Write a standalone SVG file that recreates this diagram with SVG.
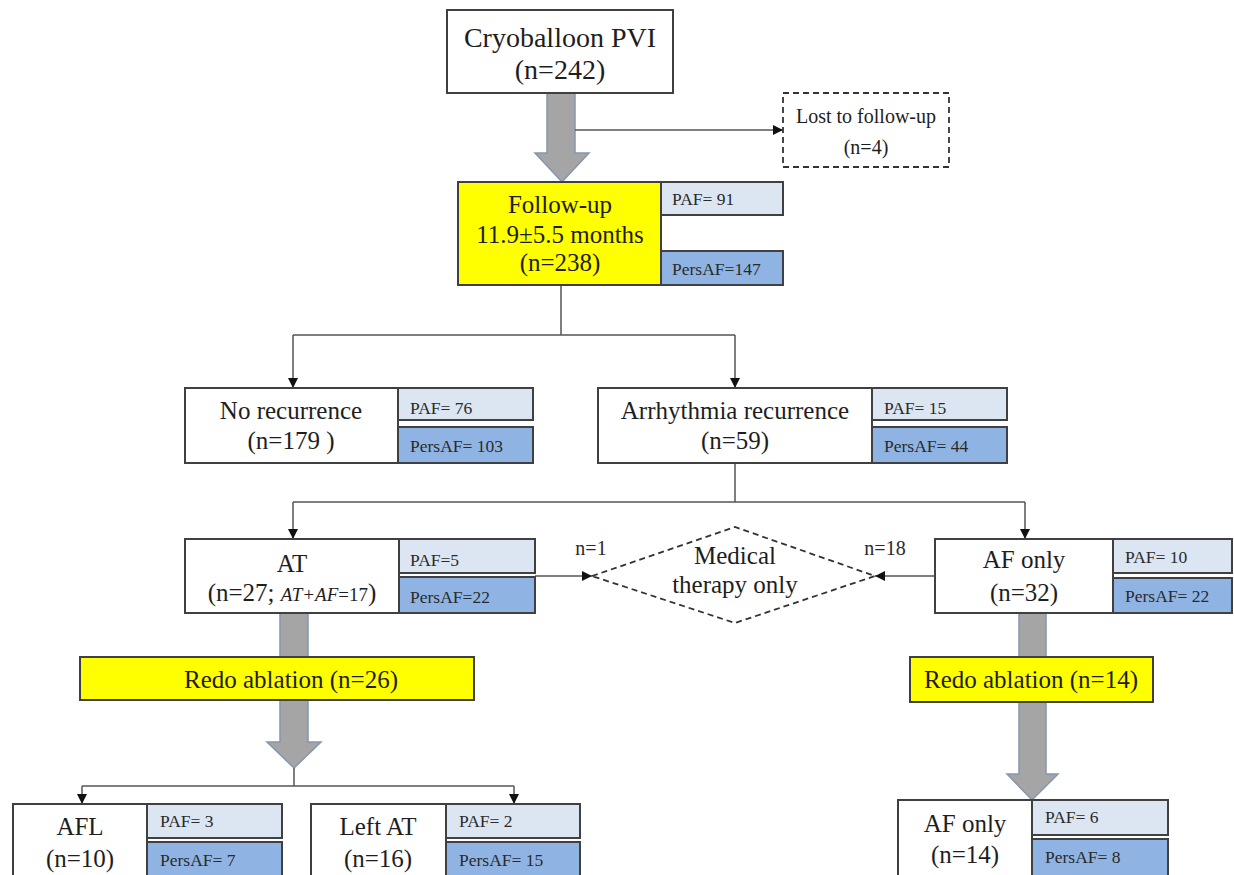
<svg xmlns="http://www.w3.org/2000/svg" width="1234" height="875" viewBox="0 0 1234 875">
<defs>
<marker id="ah" viewBox="0 0 10 10" refX="10" refY="5" markerWidth="10" markerHeight="10" markerUnits="userSpaceOnUse" orient="auto">
<path d="M0,0 L10,5 L0,10 z" fill="#111"/>
</marker>
<style>
.box{fill:#fff;stroke:#404040;stroke-width:2}
.dash{fill:#fff;stroke:#333;stroke-width:1.8;stroke-dasharray:6,4}
.yel{fill:#ffff00;stroke:#404040;stroke-width:2}
.paf{fill:#dce6f2;stroke:#404040;stroke-width:2}
.pers{fill:#8fb4e3;stroke:#404040;stroke-width:2}
.big{fill:#a5a5a5;stroke:#8497b0;stroke-width:1.5}
.ln{fill:none;stroke:#555;stroke-width:1.5}
.arr{fill:none;stroke:#555;stroke-width:1.5;marker-end:url(#ah)}
text{font-family:"Liberation Serif","Times New Roman",serif;fill:#1e1e1e}
.t{font-size:25px;text-anchor:middle}
.t28{font-size:28px;text-anchor:middle}
.s{font-size:17.5px;fill:#2a2a2a}
.m{font-size:20px;text-anchor:middle}
.n{font-size:20px;fill:#2a2a2a;text-anchor:middle}
</style>
</defs>

<g id="big-arrows">
<path class="big" d="M547,93 L575,93 L575,153 L589,153 L562,182 L535,153 L547,153 Z"/>
<path class="big" d="M280,613 L308,613 L308,742 L321,742 L294,768 L267,742 L280,742 Z"/>
<path class="big" d="M1019,613 L1046,613 L1046,774 L1058,774 L1032,800 L1007,774 L1019,774 Z"/>
</g>

<g id="connectors">
<path class="arr" d="M575,130 L783,130"/>
<path class="ln" d="M561,285 L561,335 M293,335 L735,335"/>
<path class="arr" d="M293,335 L293,388"/>
<path class="arr" d="M735,335 L735,388"/>
<path class="ln" d="M735,463 L735,502 M293,502 L1025,502"/>
<path class="arr" d="M293,502 L293,539"/>
<path class="arr" d="M1025,502 L1025,539"/>
<path class="arr" d="M535,576 L592,576"/>
<path class="arr" d="M935,576 L875,576"/>
<path class="ln" d="M294,768 L294,786 M82,786 L514,786"/>
<path class="arr" d="M82,786 L82,804"/>
<path class="arr" d="M514,786 L514,804"/>
</g>

<g id="cryoballoon">
<rect class="box" x="447" y="10" width="226" height="83"/>
<text class="t28" x="560" y="47">Cryoballoon PVI</text>
<text class="t28" x="560" y="79">(n=242)</text>
</g>

<g id="lost">
<rect class="dash" x="783" y="93" width="166" height="74"/>
<text class="m" x="866" y="123">Lost to follow-up</text>
<text class="m" x="866" y="154">(n=4)</text>
</g>

<g id="followup">
<rect class="yel" x="458" y="182" width="203" height="103"/>
<text class="t" x="560" y="213">Follow-up</text>
<text class="t" x="560" y="243">11.9±5.5 months</text>
<text class="t" x="560" y="271">(n=238)</text>
<rect class="paf" x="661" y="182" width="122" height="33"/>
<text class="s" x="672" y="205">PAF= 91</text>
<rect class="pers" x="661" y="251" width="122" height="34"/>
<text class="s" x="672" y="275">PersAF=147</text>
</g>

<g id="norecurrence">
<rect class="box" x="185" y="388" width="213" height="75"/>
<text class="t" x="291" y="419">No recurrence</text>
<text class="t" x="291" y="449">(n=179 )</text>
<rect class="paf" x="398" y="388" width="135" height="32"/>
<text class="s" x="410" y="414">PAF= 76</text>
<rect class="pers" x="398" y="427" width="135" height="36"/>
<text class="s" x="410" y="452">PersAF= 103</text>
</g>

<g id="arrhythmia">
<rect class="box" x="598" y="388" width="274" height="75"/>
<text class="t" x="735" y="419">Arrhythmia recurrence</text>
<text class="t" x="735" y="449">(n=59)</text>
<rect class="paf" x="872" y="388" width="135" height="32"/>
<text class="s" x="884" y="414">PAF= 15</text>
<rect class="pers" x="872" y="427" width="135" height="36"/>
<text class="s" x="884" y="452">PersAF= 44</text>
</g>

<g id="at">
<rect class="box" x="185" y="539" width="214" height="74"/>
<text class="t" x="292" y="572">AT</text>
<text class="t" x="292" y="601">(n=27; <tspan font-style="italic" font-size="19">AT+AF</tspan><tspan font-size="19">=17</tspan>)</text>
<rect class="paf" x="399" y="539" width="136" height="34"/>
<text class="s" x="410" y="566">PAF=5</text>
<rect class="pers" x="399" y="577" width="136" height="36"/>
<text class="s" x="410" y="603">PersAF=22</text>
</g>

<g id="medical">
<path class="dash" d="M592,576 L735,527 L875,576 L735,623 Z"/>
<text class="t" x="735" y="564">Medical</text>
<text class="t" x="735" y="593">therapy only</text>
<text class="n" x="591" y="555">n=1</text>
<text class="n" x="885" y="555">n=18</text>
</g>

<g id="afonly">
<rect class="box" x="935" y="539" width="178" height="74"/>
<text class="t" x="1024" y="568">AF only</text>
<text class="t" x="1024" y="601">(n=32)</text>
<rect class="paf" x="1113" y="539" width="119" height="34"/>
<text class="s" x="1125" y="563">PAF= 10</text>
<rect class="pers" x="1113" y="578" width="119" height="35"/>
<text class="s" x="1125" y="602">PersAF= 22</text>
</g>

<g id="redo-left">
<rect class="yel" x="80" y="657" width="394" height="43"/>
<text class="t" x="291" y="688" font-size="24">Redo ablation (n=26)</text>
</g>

<g id="redo-right">
<rect class="yel" x="910" y="657" width="243" height="45"/>
<text class="t" x="1031" y="688" font-size="24">Redo ablation (n=14)</text>
</g>

<g id="afl">
<rect class="box" x="13" y="804" width="134" height="74"/>
<text class="t" x="80" y="835">AFL</text>
<text class="t" x="80" y="867">(n=10)</text>
<rect class="paf" x="147" y="804" width="135" height="34"/>
<text class="s" x="160" y="827">PAF= 3</text>
<rect class="pers" x="147" y="842" width="135" height="36"/>
<text class="s" x="160" y="866">PersAF= 7</text>
</g>

<g id="leftat">
<rect class="box" x="311" y="804" width="135" height="74"/>
<text class="t" x="378" y="835">Left AT</text>
<text class="t" x="378" y="867">(n=16)</text>
<rect class="paf" x="446" y="804" width="134" height="34"/>
<text class="s" x="459" y="827">PAF= 2</text>
<rect class="pers" x="446" y="842" width="134" height="36"/>
<text class="s" x="459" y="866">PersAF= 15</text>
</g>

<g id="afonly14">
<rect class="box" x="898" y="800" width="134" height="78"/>
<text class="t" x="965" y="832">AF only</text>
<text class="t" x="965" y="863">(n=14)</text>
<rect class="paf" x="1032" y="800" width="136" height="35"/>
<text class="s" x="1045" y="823">PAF= 6</text>
<rect class="pers" x="1032" y="839" width="136" height="39"/>
<text class="s" x="1045" y="863">PersAF= 8</text>
</g>
</svg>
